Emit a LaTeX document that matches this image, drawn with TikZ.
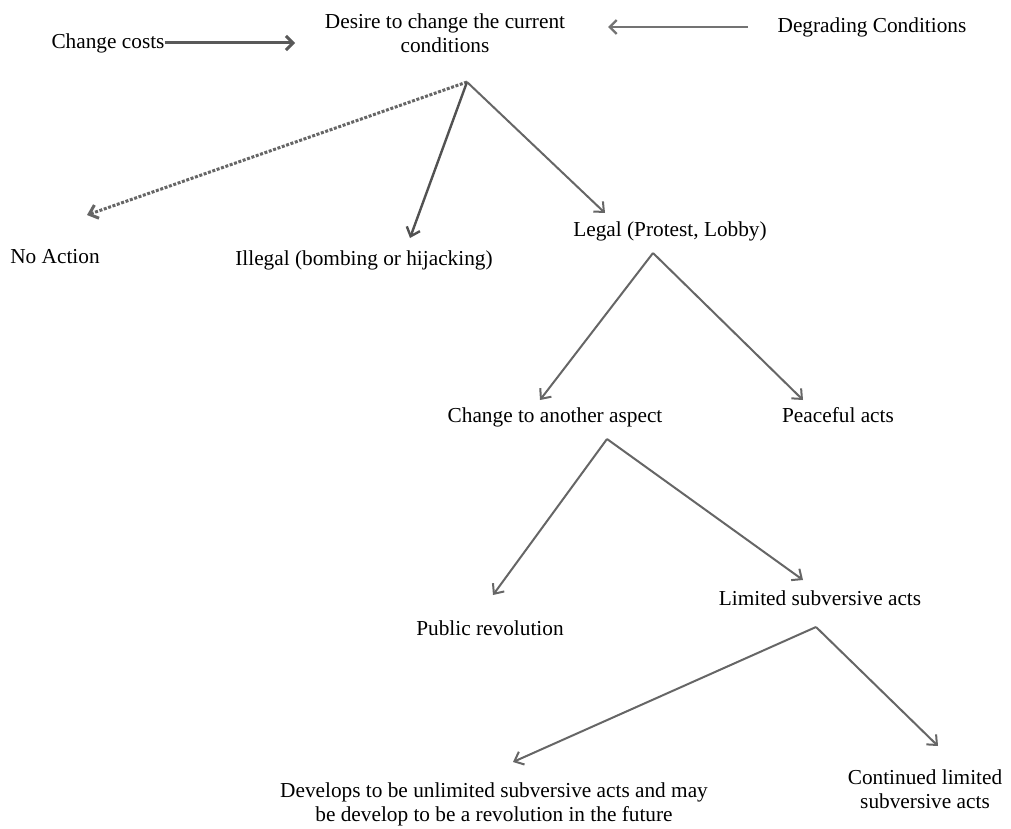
\documentclass[tikz,border=0pt]{standalone}
\usepackage{fontspec}
\setmainfont{Liberation Serif}
\usetikzlibrary{arrows.meta}

\begin{document}
\begin{tikzpicture}[x=1pt, y=-1pt,
  lbl/.style={font=\fontsize{21.3}{24}\selectfont, align=center, inner sep=0pt},
  branch/.style={-{Straight Barb[length=8pt, width=14pt]}, line width=2pt, black!60},
  feed/.style={-{Straight Barb[length=7pt, width=14pt]}, line width=3pt, black!65}]
\useasboundingbox (0,0) rectangle (1011,829);
% labels
\node[lbl] (desire) at (445,33) {Desire to change the current\\conditions};
\node[lbl] (costs) at (108,43) {Change costs};
\node[lbl] (degrading) at (872,27) {Degrading Conditions};
\node[lbl] (noaction) at (55,257) {No Action};
\node[lbl] (illegal) at (364,260) {Illegal (bombing or hijacking)};
\node[lbl] (legal) at (670,231) {Legal (Protest, Lobby)};
\node[lbl] (another) at (555,417) {Change to another aspect};
\node[lbl] (peaceful) at (838,415) {Peaceful acts};
\node[lbl] (public) at (490,628) {Public revolution};
\node[lbl] (limited) at (820,598) {Limited subversive acts};
\node[lbl] (develops) at (494,804) {Develops to be unlimited subversive acts and may\\be develop to be a revolution in the future};
\node[lbl] (continued) at (925,789) {Continued limited\\subversive acts};
% fork points and arrow tips
\coordinate (desire-fork) at (467,82);
\coordinate (legal-fork) at (653,253);
\coordinate (another-fork) at (607,439);
\coordinate (limited-fork) at (816,627);
\coordinate (costs-tip) at (295,43);
\coordinate (degrading-tail) at (748,27);
\coordinate (degrading-tip) at (608,27);
\coordinate (noaction-tip) at (87,215);
\coordinate (illegal-tip) at (410,238);
\coordinate (legal-tip) at (605,213);
\coordinate (another-tip) at (540,400);
\coordinate (peaceful-tip) at (803,400);
\coordinate (public-tip) at (493,595);
\coordinate (limited-tip) at (803,580);
\coordinate (develops-tip) at (513,762);
\coordinate (continued-tip) at (938,746);
% incoming pressures
\draw[feed] (costs.east) -- (costs-tip);
\draw[feed, line width=2.4pt, black!55] (degrading-tail) -- (degrading-tip);
% branches
\draw[branch, line width=3pt, dash pattern=on 3pt off 1.6pt] (desire-fork) -- (noaction-tip);
\draw[branch, line width=2.4pt, black!68] (desire-fork) -- (illegal-tip);
\foreach \f/\t in {desire/legal, legal/another, legal/peaceful, another/public,
                   another/limited, limited/develops, limited/continued}
  \draw[branch] (\f-fork) -- (\t-tip);
\end{tikzpicture}
\end{document}
